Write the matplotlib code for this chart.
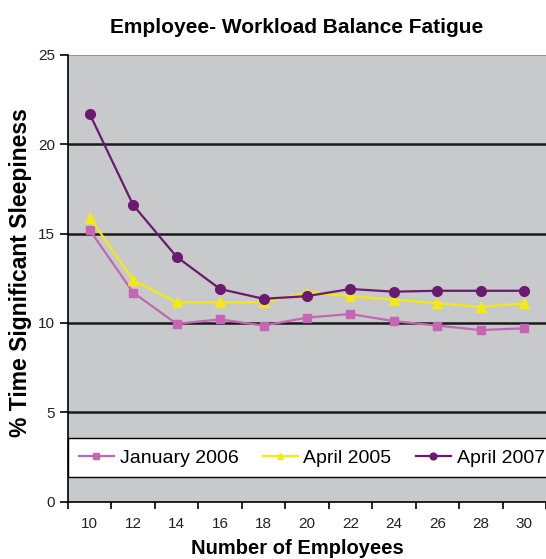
import matplotlib.pyplot as plt
import numpy as np

employees = [10, 12, 14, 16, 18, 20, 22, 24, 26, 28, 30]
jan2006 = [15.2, 11.7, 9.95, 10.2, 9.85, 10.3, 10.5, 10.1, 9.85, 9.6, 9.7]
apr2005 = [15.9, 12.4, 11.15, 11.15, 11.15, 11.7, 11.5, 11.3, 11.1, 10.9, 11.1]
apr2007 = [21.7, 16.6, 13.7, 11.9, 11.35, 11.5, 11.9, 11.75, 11.8, 11.8, 11.8]

plt.rcParams['font.family'] = ['Liberation Sans', 'DejaVu Sans']

fig = plt.figure(figsize=(5.46, 5.59), dpi=100)
ax = fig.add_axes([0.1245, 0.1027, 0.8755, 0.799])
ax.set_facecolor('#c8c9cb')

xpos = np.arange(len(employees))

# horizontal gridlines
for v in [5, 10, 15, 20]:
    ax.axhline(v, color='#1a1a1a', lw=1.8, zorder=1)
ax.axhline(25, color='#8a8a8a', lw=1.2, zorder=1)

ax.plot(xpos, jan2006, color='#c466b4', marker='s', markersize=6, lw=1.6,
        label='January 2006', zorder=3)
ax.plot(xpos, apr2005, color='#f2ea10', marker='^', markersize=7, lw=1.6,
        label='April 2005', zorder=3)
ax.plot(xpos, apr2007, color='#6b1a70', marker='o', markersize=7, lw=1.6,
        label='April 2007', zorder=4)

ax.set_xlim(-0.5, len(employees) - 0.5)
ax.set_ylim(0, 25)
ax.set_yticks([0, 5, 10, 15, 20, 25])
ax.set_xticks(np.arange(len(employees) + 1) - 0.5)
ax.set_xticklabels([])
ax.set_xticks(xpos, minor=True)
ax.set_xticklabels([str(e) for e in employees], minor=True)
ax.tick_params(axis='x', which='major', direction='out', length=5, width=1.2, color='black')
ax.tick_params(axis='x', which='minor', length=0, labelsize=11, pad=11, labelcolor='#222222')
ax.tick_params(axis='y', direction='out', length=6, width=1.2, labelsize=11, labelcolor='#222222')

for side in ['top', 'right']:
    ax.spines[side].set_visible(False)
ax.spines['left'].set_linewidth(1.2)
ax.spines['bottom'].set_linewidth(1.2)

leg = ax.legend(loc='lower left', bbox_to_anchor=(0.0, 0.054, 1.02, 0.09), mode='expand',
                ncol=3, fontsize=14, frameon=True, fancybox=False, handlelength=1.8,
                handletextpad=0.3, columnspacing=1.0, borderaxespad=0, borderpad=0.55,
                markerscale=0.7)
leg.get_frame().set_facecolor('white')
leg.get_frame().set_edgecolor('black')
leg.get_frame().set_linewidth(1.0)
leg.get_frame().set_alpha(1)

fig.text(0.544, 0.951, 'Employee- Workload Balance Fatigue', ha='center', va='center',
         fontsize=15, fontweight='bold')
fig.text(0.544, 0.018, 'Number of Employees', ha='center', va='center',
         fontsize=14.5, fontweight='bold')
fig.text(0.038, 0.513, '% Time Significant Sleepiness', ha='center', va='center',
         rotation=90, fontsize=16.5, fontweight='bold')

plt.savefig('out.png', dpi=100)
